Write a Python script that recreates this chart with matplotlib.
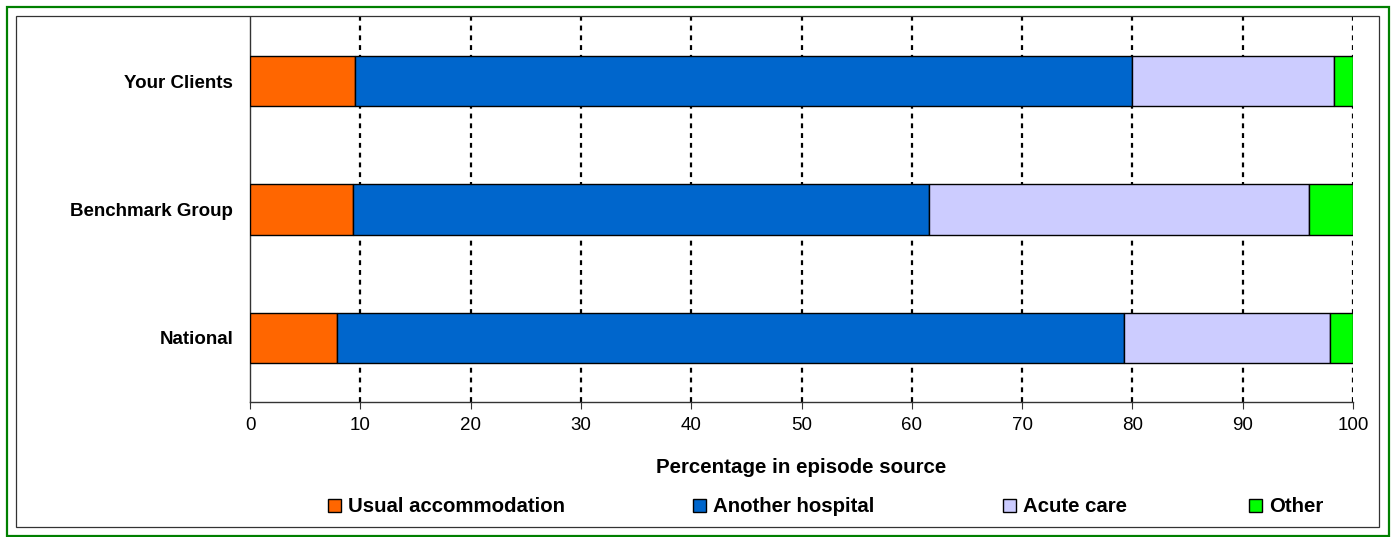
import matplotlib
matplotlib.use("Agg")
import matplotlib.pyplot as plt
from matplotlib.patches import Rectangle, Patch

plt.rcParams['font.family'] = ['Liberation Sans', 'DejaVu Sans']

# data (percentages)
groups = ['Your Clients', 'Benchmark Group', 'National']
usual = [9.5, 9.3, 7.9]
another = [70.5, 52.3, 71.3]
acute = [18.3, 34.4, 18.7]
other = [1.7, 4.0, 2.1]
series_names = ['Usual accommodation', 'Another hospital', 'Acute care', 'Other']
colors = ['#FF6600', '#0066CC', '#CCCCFF', '#00FF00']
xticks = list(range(0, 101, 10))

W, H = 1398, 537
fig = plt.figure(figsize=(W / 100, H / 100), dpi=100)

# outer green frame and inner chart-area border
fig.patches.append(Rectangle((7 / W, 1 / H), 1382 / W, 529 / H, transform=fig.transFigure,
                             fill=False, edgecolor='#008000', linewidth=1.6))
fig.patches.append(Rectangle((16 / W, 10 / H), 1363 / W, 511 / H, transform=fig.transFigure,
                             fill=False, edgecolor='#333333', linewidth=0.9))

ax = fig.add_axes([250 / W, 1 - 402 / H, 1103 / W, 385 / H])

ypos = list(range(len(groups)))
left = [0.0] * len(groups)
for vals, name, col in zip([usual, another, acute, other], series_names, colors):
    ax.barh(ypos, vals, left=left, height=0.39, color=col, edgecolor='black',
            linewidth=1.0, label=name, zorder=3)
    left = [l + v for l, v in zip(left, vals)]

ax.set_xlim(0, 100)
ax.set_ylim(2.5, -0.5)
ax.set_xticks(xticks)
ax.set_yticks(ypos)
ax.set_yticklabels(groups, fontsize=13.5, fontweight='bold')
ax.tick_params(axis='y', length=0, pad=12)
ax.tick_params(axis='x', labelsize=13.5, length=5, color='#333333', pad=6)

for x in xticks[1:]:
    ax.axvline(x, color='black', linestyle=(0, (2.2, 2.2)), linewidth=1.6, zorder=1)

for s in ['top', 'right']:
    ax.spines[s].set_visible(False)
for s in ['left', 'bottom']:
    ax.spines[s].set_color('#333333')
    ax.spines[s].set_linewidth(1.0)

ax.set_xlabel('Percentage in episode source', fontsize=14.8, fontweight='bold', labelpad=17)

# legend entries, spaced as in the original
legend_x = [328, 693, 1003, 1249]
for name, col, lx in zip(series_names, colors, legend_x):
    leg = fig.legend(handles=[Patch(facecolor=col, edgecolor='black', linewidth=1.0)],
                     labels=[name], loc='center left',
                     bbox_to_anchor=(lx / W, 1 - 507 / H), frameon=False,
                     prop={'size': 14.7, 'weight': 'bold'}, handlelength=0.65,
                     handleheight=0.65, handletextpad=0.35, borderpad=0, borderaxespad=0)

fig.savefig('out.png', dpi=100)
